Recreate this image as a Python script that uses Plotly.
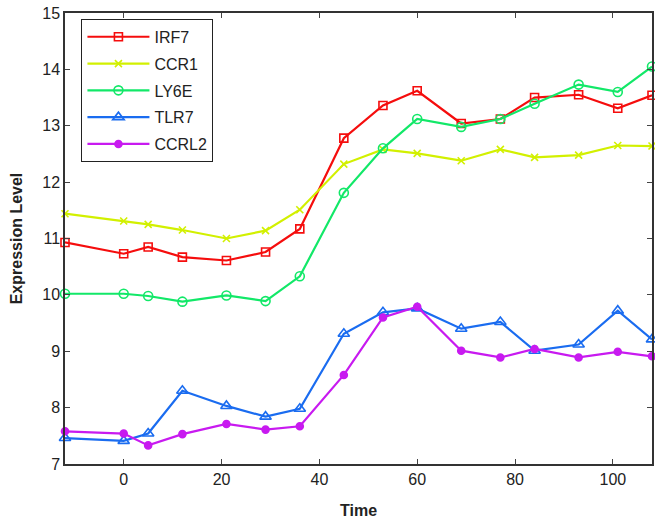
import plotly.graph_objects as go

# Sampling times
time = [-12, 0, 5, 12, 21, 29, 36, 45, 53, 60, 69, 77, 84, 93, 101, 108]

# Expression levels per gene
irf7 = [10.93, 10.73, 10.85, 10.67, 10.61, 10.76, 11.17, 12.78, 13.36, 13.62,
        13.04, 13.12, 13.50, 13.55, 13.31, 13.54]
ccr1 = [11.44, 11.31, 11.25, 11.15, 11.00, 11.14, 11.51, 12.32, 12.58, 12.51,
        12.38, 12.58, 12.44, 12.48, 12.65, 12.64]
ly6e = [10.02, 10.02, 9.98, 9.88, 9.99, 9.89, 10.33, 11.81, 12.60, 13.12,
        12.98, 13.12, 13.39, 13.73, 13.60, 14.05]
tlr7 = [7.46, 7.41, 7.54, 8.30, 8.03, 7.84, 7.98, 9.31, 9.69, 9.76,
        9.40, 9.52, 9.01, 9.12, 9.72, 9.21]
ccrl2 = [7.58, 7.54, 7.33, 7.53, 7.71, 7.61, 7.67, 8.58, 9.60, 9.79,
         9.01, 8.89, 9.04, 8.89, 8.99, 8.91]

x_ticks = [0, 20, 40, 60, 80, 100]
y_ticks = [7, 8, 9, 10, 11, 12, 13, 14, 15]

series = [
    ("IRF7", irf7, "#f50d0d", "square-open", 8),
    ("CCR1", ccr1, "#d2f000", "x-thin-open", 7),
    ("LY6E", ly6e, "#12e868", "circle-open", 9),
    ("TLR7", tlr7, "#1a6cf0", "triangle-up-open", 10),
    ("CCRL2", ccrl2, "#c81af0", "circle", 7),
]

fig = go.Figure()
for name, vals, color, symbol, size in series:
    fig.add_trace(go.Scatter(
        x=time, y=vals, name=name, legendgroup=name, mode="lines+markers",
        line=dict(color=color, width=2.2),
        marker=dict(symbol=symbol, size=size, color=color,
                    line=dict(color=color, width=1.6)),
        cliponaxis=False,
    ))

font = "Liberation Sans, Arial, sans-serif"
fig.update_layout(
    width=655, height=523,
    margin=dict(l=65, r=1, t=13, b=59),
    paper_bgcolor="white", plot_bgcolor="white",
    font=dict(family=font, size=16, color="#222"),
    showlegend=True,
    legend=dict(
        x=0.028, y=0.987, xanchor="left", yanchor="top",
        bordercolor="#222", borderwidth=1, bgcolor="white",
        font=dict(family=font, size=16, color="#222"),
        itemwidth=62, traceorder="grouped", tracegroupgap=3,
    ),
    xaxis=dict(
        range=[-12, 108], tickvals=x_ticks, ticks="inside", ticklen=5,
        showline=True, linecolor="#333", linewidth=1.5, mirror="ticks",
        showgrid=False, zeroline=False,
        title=dict(text="<b>Time</b>", font=dict(size=16), standoff=18),
    ),
    yaxis=dict(
        range=[7, 15], tickvals=y_ticks, ticks="inside", ticklen=5,
        showline=True, linecolor="#333", linewidth=1.5, mirror="ticks",
        showgrid=False, zeroline=False,
        title=dict(text="<b>Expression Level</b>", font=dict(size=16), standoff=16),
    ),
)

fig.write_html("out.html")
